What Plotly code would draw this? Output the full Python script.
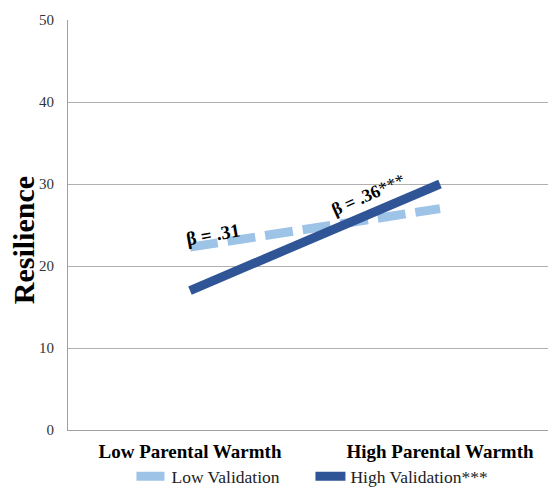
import plotly.graph_objects as go

categories = ["Low Parental Warmth", "High Parental Warmth"]
low_validation = [22.3, 27.0]
high_validation = [17.0, 30.0]
series_names = ["Low Validation", "High Validation***"]
beta_labels = ["β = .31", "β = .36***"]
y_title = "Resilience"
y_ticks = [0, 10, 20, 30, 40, 50]

SERIF = "Liberation Serif"

xpos = [0, 1]
fig = go.Figure()
fig.add_trace(go.Scatter(x=xpos, y=low_validation, mode="lines", name=series_names[0],
                         line=dict(color="#9DC3E6", width=9, dash="28px,10px")))
fig.add_trace(go.Scatter(x=xpos, y=high_validation, mode="lines", name=series_names[1],
                         line=dict(color="#2F5597", width=9)))

fig.add_annotation(x=0.09, y=23.8, xref="x", yref="y", text="<b>β = .31</b>", showarrow=False,
                   textangle=-10, font=dict(family=SERIF, size=19, color="black"))
fig.add_annotation(x=0.71, y=28.7, xref="x", yref="y", text="<b>β = .36</b>***", showarrow=False,
                   textangle=-24, font=dict(family=SERIF, size=18, color="black"))
fig.add_annotation(x=-0.092, y=0.463, xref="paper", yref="paper", text="<b>%s</b>" % y_title,
                   showarrow=False, textangle=-90, xanchor="center", yanchor="middle",
                   font=dict(family=SERIF, size=30, color="black"))

# page has an 8px body margin; figure sized/offset to compensate
fig.update_layout(
    width=548, height=479,
    margin=dict(l=60, r=0, t=12, b=57, autoexpand=False),
    plot_bgcolor="white", paper_bgcolor="white",
    showlegend=True,
    legend=dict(orientation="h", x=0.13, y=-0.113, xanchor="left", yanchor="middle",
                bgcolor="rgba(0,0,0,0)",
                font=dict(family=SERIF, size=17.5, color="#222"),
                entrywidth=134, entrywidthmode="pixels", itemwidth=30, tracegroupgap=0),
    font=dict(family=SERIF),
)
fig.update_xaxes(range=[-0.488, 1.464], tickvals=xpos, ticktext=["<b>%s</b>" % c for c in categories],
                 showgrid=False, showline=True, linecolor="#A0A0A0", linewidth=1, ticks="",
                 ticklabelstandoff=4,
                 tickfont=dict(family=SERIF, size=19, color="black"), zeroline=False)
fig.update_yaxes(range=[0, 50], tickvals=y_ticks, showgrid=True, gridcolor="#B0B0B0", gridwidth=1,
                 showline=True, linecolor="#A0A0A0", linewidth=1, ticks="", zeroline=False,
                 ticklabelstandoff=10,
                 tickfont=dict(family=SERIF, size=15, color="#333"))

fig.write_html("out.html")
